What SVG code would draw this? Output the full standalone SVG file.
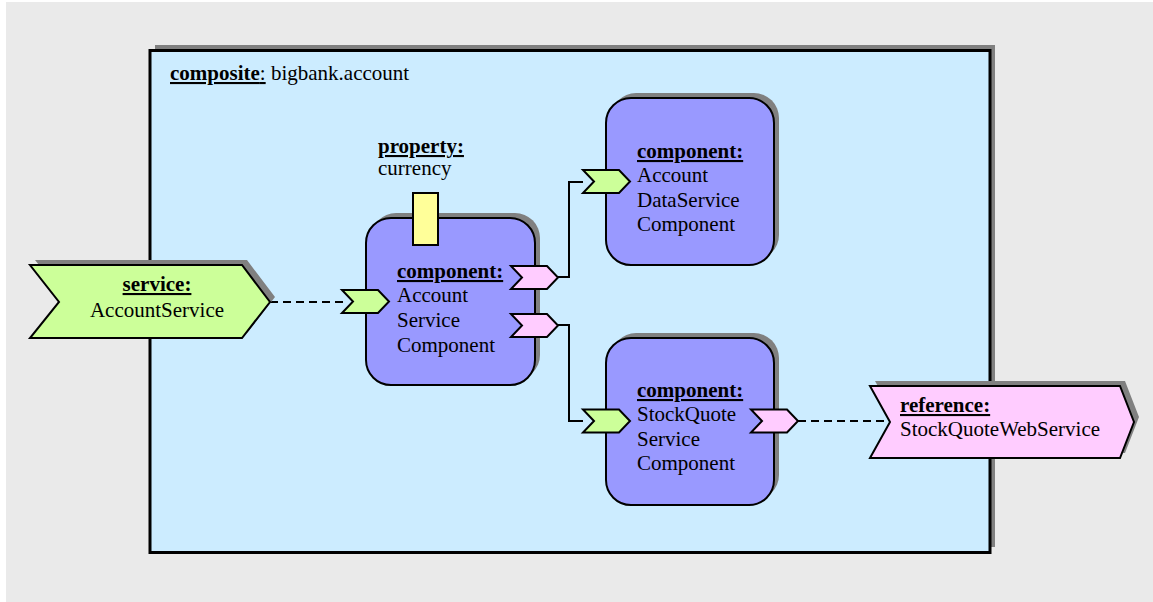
<svg xmlns="http://www.w3.org/2000/svg" width="1153" height="602" viewBox="0 0 1153 602">
  <style>
    text { font-family: "Liberation Serif", "DejaVu Serif", serif; font-size: 21px; fill: #000; }
    .b { font-weight: bold; text-decoration: underline; }
    .shadow { fill: #808080; }
    .comp { fill: #9999FF; stroke: #000; stroke-width: 2; }
    .svc { fill: #CCFF99; stroke: #000; stroke-width: 2; stroke-linejoin: miter; }
    .ref { fill: #FFCCFF; stroke: #000; stroke-width: 2; stroke-linejoin: miter; }
    .prop { fill: #FFFF99; stroke: #000; stroke-width: 2; }
    .wire { fill: none; stroke: #000; stroke-width: 2; }
    .dash { fill: none; stroke: #000; stroke-width: 2; stroke-dasharray: 8 5; }
  </style>
  <defs>
    <!-- small port chevron, origin at its left-top corner -->
    <polygon id="port" points="0,0 36,0 47,11.5 36,23 0,23 11,11.5"/>
  </defs>

  <!-- canvas -->
  <rect x="0" y="0" width="1153" height="602" fill="#FFFFFF"/>
  <rect x="6" y="2" width="1147" height="600" fill="#EAEAEA"/>

  <!-- composite -->
  <g id="composite">
    <rect class="shadow" x="155" y="45" width="840" height="502"/>
    <rect x="150" y="50.5" width="840" height="502" fill="#CCECFF" stroke="#000" stroke-width="3"/>
    <text x="170" y="80"><tspan class="b">composite</tspan><tspan text-decoration="underline">:</tspan> bigbank.account</text>
  </g>

  <!-- connectors -->
  <g id="connectors">
    <line class="dash" x1="270" y1="302" x2="343" y2="302"/>
    <polyline class="wire" points="558,277 569,277 569,182 583,182"/>
    <polyline class="wire" points="558,325 569,325 569,421 583,421"/>
    <line class="dash" x1="798" y1="421" x2="890" y2="421"/>
  </g>

  <!-- service: AccountService -->
  <g id="service-AccountService">
    <polygon class="shadow" points="35,260 247,260 275,297 247,333 35,333 64,297"/>
    <polygon class="svc" points="30,265 242,265 270,302 242,338 30,338 59,302"/>
    <text x="157" y="291" text-anchor="middle" class="b">service:</text>
    <text x="157" y="317" text-anchor="middle">AccountService</text>
  </g>

  <!-- property: currency -->
  <g id="property-currency">
    <text x="378" y="153" class="b">property:</text>
    <text x="378" y="175">currency</text>
  </g>

  <!-- component: AccountServiceComponent -->
  <g id="AccountServiceComponent">
    <rect class="shadow" x="371" y="213" width="169" height="167" rx="25"/>
    <rect class="comp" x="366" y="218" width="169" height="167" rx="25"/>
    <rect class="prop" x="413" y="193" width="25" height="52"/>
    <use href="#port" class="svc" x="342" y="290"/>
    <use href="#port" class="ref" x="511" y="266"/>
    <use href="#port" class="ref" x="511" y="314"/>
    <text x="397" y="278" class="b">component:</text>
    <text x="397" y="302">Account</text>
    <text x="397" y="327">Service</text>
    <text x="397" y="352">Component</text>
  </g>

  <!-- component: AccountDataServiceComponent -->
  <g id="AccountDataServiceComponent">
    <rect class="shadow" x="611" y="93" width="168" height="167" rx="25"/>
    <rect class="comp" x="606" y="98" width="168" height="167" rx="25"/>
    <use href="#port" class="svc" x="583" y="170"/>
    <text x="637" y="158" class="b">component:</text>
    <text x="637" y="182">Account</text>
    <text x="637" y="207">DataService</text>
    <text x="637" y="231">Component</text>
  </g>

  <!-- component: StockQuoteServiceComponent -->
  <g id="StockQuoteServiceComponent">
    <rect class="shadow" x="611" y="333" width="168" height="167" rx="25"/>
    <rect class="comp" x="606" y="338" width="168" height="167" rx="25"/>
    <use href="#port" class="svc" x="583" y="409.5"/>
    <use href="#port" class="ref" x="751" y="409.5"/>
    <text x="637" y="397" class="b">component:</text>
    <text x="637" y="421">StockQuote</text>
    <text x="637" y="446">Service</text>
    <text x="637" y="470">Component</text>
  </g>

  <!-- reference: StockQuoteWebService -->
  <g id="reference-StockQuoteWebService">
    <polygon class="shadow" points="875,381 1125,381 1139,417 1125,453 875,453 895,417"/>
    <polygon class="ref" points="870,386 1120,386 1134,422 1120,458 870,458 890,422"/>
    <text x="900" y="412" class="b">reference:</text>
    <text x="900" y="436">StockQuoteWebService</text>
  </g>
</svg>
